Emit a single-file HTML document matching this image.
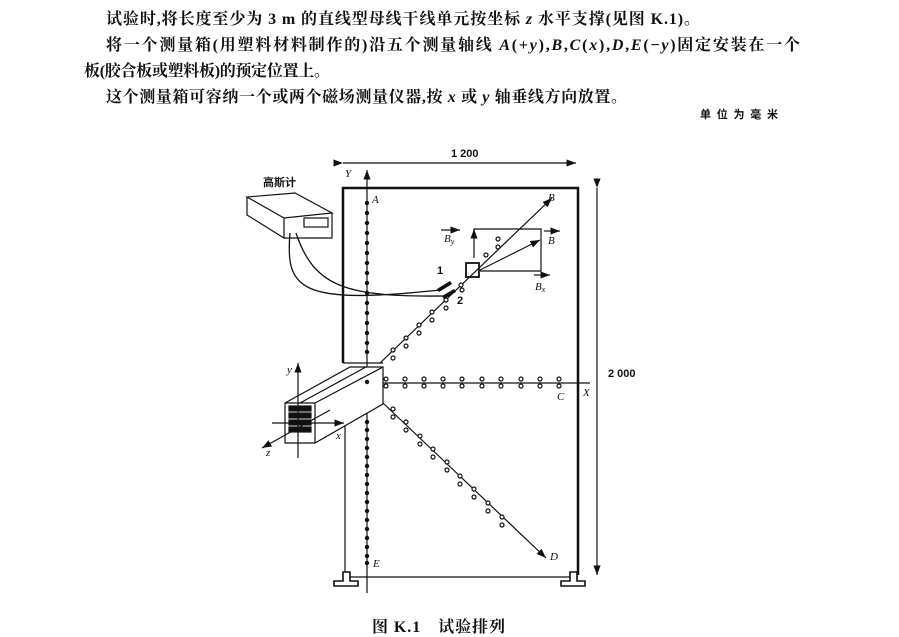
<!DOCTYPE html><html><head><meta charset="utf-8"><style>
body{margin:0;background:#fff;width:899px;height:637px;overflow:hidden}
svg{display:block}
.t{font-family:"Liberation Serif","Noto Serif CJK SC",serif;font-size:16px;fill:#111;font-weight:bold}
.i{font-family:"Liberation Serif",serif;font-style:italic;font-size:11px;fill:#111}
.s{font-family:"Liberation Sans","Noto Sans CJK SC",sans-serif;font-size:11px;fill:#111;font-weight:bold}
</style></head><body>
<svg width="899" height="637" viewBox="0 0 899 637" xmlns="http://www.w3.org/2000/svg">
<defs><marker id="a" markerWidth="8" markerHeight="6" refX="8" refY="3" orient="auto"><path d="M0,0L8,3L0,6z" fill="#111"/></marker></defs>
<text class="t" x="106" y="24" textLength="594" lengthAdjust="spacing">试验时,将长度至少为 3 m 的直线型母线干线单元按坐标 <tspan font-style="italic">z</tspan> 水平支撑(见图 K.1)。</text>
<text class="t" x="106" y="50" textLength="694" lengthAdjust="spacing">将一个测量箱(用塑料材料制作的)沿五个测量轴线 <tspan font-style="italic">A</tspan>(+<tspan font-style="italic">y</tspan>),<tspan font-style="italic">B</tspan>,<tspan font-style="italic">C</tspan>(<tspan font-style="italic">x</tspan>),<tspan font-style="italic">D</tspan>,<tspan font-style="italic">E</tspan>(−<tspan font-style="italic">y</tspan>)固定安装在一个</text>
<text class="t" x="84" y="76" textLength="246" lengthAdjust="spacing">板(胶合板或塑料板)的预定位置上。</text>
<text class="t" x="106" y="102" textLength="521" lengthAdjust="spacing">这个测量箱可容纳一个或两个磁场测量仪器,按 <tspan font-style="italic">x</tspan> 或 <tspan font-style="italic">y</tspan> 轴垂线方向放置。</text>
<text class="s" x="700" y="118" textLength="78" lengthAdjust="spacing">单位为毫米</text>
<g stroke="#111" fill="none" stroke-width="1.2">
<line x1="343" y1="163" x2="576" y2="163" marker-start="url(#a)" marker-end="url(#a)"/>
<line x1="597" y1="188" x2="597" y2="575" marker-start="url(#a)" marker-end="url(#a)"/>
<path d="M343,363V188H578V575" stroke-width="2.5"/>
<path d="M343,363H383"/>
<path d="M345,425V577H578"/>
<line x1="367" y1="593" x2="367" y2="170" marker-end="url(#a)"/>
<line x1="367" y1="383" x2="590" y2="383"/>
<line x1="380" y1="363" x2="552" y2="198" marker-end="url(#a)"/>
<line x1="383" y1="403" x2="546" y2="558" marker-end="url(#a)"/>
<line x1="480" y1="270" x2="540" y2="240" marker-end="url(#a)"/>
<path d="M474,258V229H541V271H480"/>
<line x1="474" y1="238" x2="474" y2="229" marker-end="url(#a)"/>
<line x1="441" y1="230" x2="460" y2="230" marker-end="url(#a)"/>
<line x1="544" y1="231" x2="560" y2="231" marker-end="url(#a)"/>
<line x1="534" y1="275" x2="550" y2="275" marker-end="url(#a)"/>
<rect x="466" y="263" width="13" height="14" stroke-width="1.8"/>
<path d="M247,197L284,218L332,213L295,193Z M247,197V215L284,238V218 M284,238H332V213"/>
<rect x="304" y="218" width="24" height="9"/>
<path d="M290,233C285,290 300,305 440,290" stroke-width="1.3"/>
<path d="M296,233C315,290 350,297 450,296" stroke-width="1.3"/>
<path d="M285,403L350,367H383L383,404L315,443H285Z M285,403H315V443 M315,403L383,367 M300,403L366,367 M383,404L383,367" fill="#fff"/>
<rect x="289" y="406" width="22" height="5" fill="#111"/><rect x="289" y="413" width="22" height="5" fill="#111"/><rect x="289" y="420" width="22" height="5" fill="#111"/><rect x="289" y="427" width="22" height="5" fill="#111"/>
<line x1="298" y1="458" x2="298" y2="363" marker-end="url(#a)"/>
<line x1="272" y1="423" x2="344" y2="423" marker-end="url(#a)"/>
<line x1="330" y1="410" x2="262" y2="448" marker-end="url(#a)"/>
<path d="M334,586h24v-5h-8v-9h-7v9h-9z M561,586h24v-5h-8v-9h-7v9h-9z" fill="#fff" stroke-width="1.6"/>
</g>
<g fill="#111">
<circle cx="367" cy="203" r="2.2"/><circle cx="367" cy="213" r="2.2"/><circle cx="367" cy="223" r="2.2"/><circle cx="367" cy="233" r="2.2"/><circle cx="367" cy="243" r="2.2"/><circle cx="367" cy="253" r="2.2"/><circle cx="367" cy="263" r="2.2"/><circle cx="367" cy="273" r="2.2"/><circle cx="367" cy="283" r="2.2"/><circle cx="367" cy="293" r="2.2"/><circle cx="367" cy="303" r="2.2"/><circle cx="367" cy="313" r="2.2"/><circle cx="367" cy="323" r="2.2"/><circle cx="367" cy="333" r="2.2"/><circle cx="367" cy="343" r="2.2"/><circle cx="367" cy="352" r="2.2"/><circle cx="367" cy="382" r="2.2"/>
<circle cx="367" cy="422" r="2.2"/><circle cx="367" cy="430" r="2.2"/><circle cx="367" cy="439" r="2.2"/><circle cx="367" cy="448" r="2.2"/><circle cx="367" cy="457" r="2.2"/><circle cx="367" cy="466" r="2.2"/><circle cx="367" cy="475" r="2.2"/><circle cx="367" cy="484" r="2.2"/><circle cx="367" cy="493" r="2.2"/><circle cx="367" cy="502" r="2.2"/><circle cx="367" cy="511" r="2.2"/><circle cx="367" cy="520" r="2.2"/><circle cx="367" cy="529" r="2.2"/><circle cx="367" cy="538" r="2.2"/><circle cx="367" cy="547" r="2.2"/><circle cx="367" cy="556" r="2.2"/><circle cx="367" cy="563" r="2.2"/>
<path d="M437,289l13,-8l2,3l-13,8z M442,296l12,-7l2,3l-12,7z"/>
</g>
<g stroke="#111" fill="#fff" stroke-width="1.2">
<circle cx="386" cy="379" r="2"/><circle cx="386" cy="386" r="2"/><circle cx="405" cy="379" r="2"/><circle cx="405" cy="386" r="2"/><circle cx="424" cy="379" r="2"/><circle cx="424" cy="386" r="2"/><circle cx="443" cy="379" r="2"/><circle cx="443" cy="386" r="2"/><circle cx="462" cy="379" r="2"/><circle cx="462" cy="386" r="2"/><circle cx="482" cy="379" r="2"/><circle cx="482" cy="386" r="2"/><circle cx="501" cy="379" r="2"/><circle cx="501" cy="386" r="2"/><circle cx="521" cy="379" r="2"/><circle cx="521" cy="386" r="2"/><circle cx="540" cy="379" r="2"/><circle cx="540" cy="386" r="2"/><circle cx="559" cy="379" r="2"/><circle cx="559" cy="386" r="2"/>
<circle cx="393" cy="350" r="2"/><circle cx="393" cy="358" r="2"/><circle cx="406" cy="338" r="2"/><circle cx="406" cy="346" r="2"/><circle cx="419" cy="325" r="2"/><circle cx="419" cy="333" r="2"/><circle cx="432" cy="312" r="2"/><circle cx="432" cy="320" r="2"/><circle cx="446" cy="300" r="2"/><circle cx="446" cy="308" r="2"/><circle cx="461" cy="285" r="2"/><circle cx="462" cy="290" r="2"/><circle cx="486" cy="255" r="2"/><circle cx="498" cy="247" r="2"/><circle cx="498" cy="239" r="2"/>
<circle cx="393" cy="409" r="2"/><circle cx="393" cy="417" r="2"/><circle cx="406" cy="422" r="2"/><circle cx="406" cy="430" r="2"/><circle cx="420" cy="436" r="2"/><circle cx="420" cy="444" r="2"/><circle cx="433" cy="449" r="2"/><circle cx="433" cy="457" r="2"/><circle cx="447" cy="462" r="2"/><circle cx="447" cy="470" r="2"/><circle cx="460" cy="476" r="2"/><circle cx="460" cy="484" r="2"/><circle cx="474" cy="489" r="2"/><circle cx="474" cy="497" r="2"/><circle cx="488" cy="503" r="2"/><circle cx="488" cy="511" r="2"/><circle cx="502" cy="517" r="2"/><circle cx="502" cy="525" r="2"/>
</g>
<text class="s" x="451" y="157">1 200</text>
<text class="s" x="608" y="377">2 000</text>
<text class="s" x="263" y="186">高斯计</text>
<text class="s" x="437" y="274" font-weight="bold">1</text>
<text class="s" x="457" y="304" font-weight="bold">2</text>
<text class="i" x="345" y="177">Y</text><text class="i" x="372" y="203">A</text>
<text class="i" x="548" y="201">B</text><text class="i" x="548" y="244">B</text>
<text class="i" x="444" y="242">B<tspan font-size="8" dy="2">y</tspan></text>
<text class="i" x="535" y="290">B<tspan font-size="8" dy="2">x</tspan></text>
<text class="i" x="557" y="400">C</text><text class="i" x="583" y="396">X</text>
<text class="i" x="550" y="560">D</text><text class="i" x="373" y="567">E</text>
<text class="i" x="287" y="373">y</text><text class="i" x="336" y="439">x</text><text class="i" x="266" y="456">z</text>
<text class="t" x="372" y="632" font-size="13" textLength="133" lengthAdjust="spacing">图 K.1　试验排列</text>
</svg></body></html>
